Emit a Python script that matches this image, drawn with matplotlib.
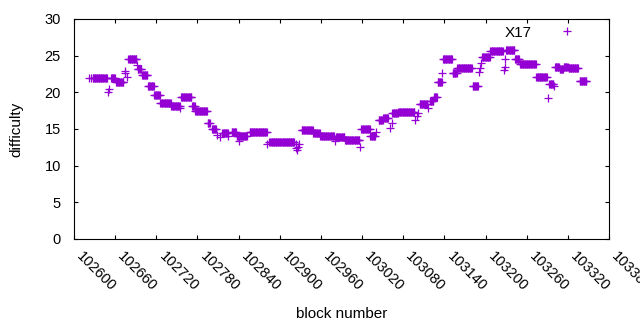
"""Сложность блоков X17 по номеру блока (в стиле gnuplot)"""
import numpy as np
import matplotlib.pyplot as plt

plt.rcParams['font.family'] = ['Liberation Sans', 'DejaVu Sans']

# Участки с постоянной сложностью: первый блок, последний блок, сложность
run_start = [102622, 102625, 102627, 102649, 102651, 102654, 102661, 102674,
             102675, 102677, 102679, 102692, 102693, 102699, 102708, 102717,
             102726, 102742, 102755, 102756, 102772, 102777, 102795, 102801,
             102809, 102813, 102816, 102825, 102830, 102837, 102841, 102856,
             102882, 102885, 102923, 102924, 102925, 102926, 102928, 102932,
             102949, 102959, 102980, 102982, 102995, 103017, 103019, 103032,
             103041, 103044, 103051, 103061, 103063, 103064, 103073, 103097,
             103100, 103102, 103104, 103116, 103119, 103125, 103130, 103137,
             103138, 103152, 103159, 103181, 103190, 103192, 103194, 103195,
             103207, 103227, 103228, 103229, 103230, 103243, 103250, 103274,
             103291, 103293, 103300, 103301, 103308, 103314, 103321, 103337]
run_end = [102622, 102625, 102648, 102649, 102651, 102660, 102672, 102674,
           102675, 102677, 102691, 102692, 102698, 102707, 102716, 102725,
           102741, 102754, 102755, 102771, 102776, 102794, 102798, 102807,
           102809, 102813, 102824, 102825, 102836, 102852, 102841, 102881,
           102882, 102921, 102923, 102924, 102925, 102926, 102928, 102948,
           102958, 102979, 102980, 102994, 103016, 103017, 103031, 103039,
           103041, 103050, 103058, 103061, 103063, 103072, 103096, 103097,
           103100, 103102, 103115, 103116, 103124, 103129, 103136, 103137,
           103151, 103158, 103180, 103189, 103190, 103192, 103194, 103206,
           103225, 103227, 103228, 103229, 103242, 103249, 103273, 103289,
           103291, 103299, 103300, 103307, 103313, 103320, 103335, 103347]
run_diff = [21.9, 22.0, 22.0, 20.1, 20.4, 21.9, 21.4, 22.9,
            22.6, 22.1, 24.5, 23.7, 23.2, 22.3, 20.8, 19.6,
            18.5, 18.1, 17.8, 19.3, 18.2, 17.4, 15.8, 15.0,
            14.2, 13.95, 14.4, 14.0, 14.55, 14.1, 13.4, 14.55,
            13.0, 13.2, 12.9, 12.4, 12.1, 12.6, 13.0, 14.9,
            14.4, 14.1, 13.3, 13.9, 13.45, 12.6, 15.0, 14.05,
            14.6, 16.2, 16.45, 15.1, 15.8, 17.15, 17.3, 16.2,
            16.8, 17.15, 18.4, 17.8, 18.8, 19.3, 21.45, 22.6,
            24.6, 22.65, 23.3, 20.8, 22.8, 23.3, 23.95, 24.85,
            25.65, 23.0, 23.5, 24.55, 25.75, 24.6, 23.9, 22.1,
            19.2, 21.1, 20.8, 23.4, 23.2, 23.5, 23.3, 21.55]

x_ticks = list(range(102600, 103381, 60))
y_ticks = [0, 5, 10, 15, 20, 25, 30]

# Разворачиваем участки в отдельные блоки
blocks = np.concatenate([np.arange(s, e + 1) for s, e in zip(run_start, run_end)])
difficulty = np.concatenate([np.full(e - s + 1, d)
                             for s, e, d in zip(run_start, run_end, run_diff)])

fig = plt.figure(figsize=(6.4, 3.3), dpi=100)
ax = fig.add_axes([74 / 640, 91 / 330, 535 / 640, 220 / 330])

ax.plot(blocks, difficulty, '+', color='#9400d3', markersize=5.6,
        markeredgewidth=0.9, label='X17')

ax.set_xlim(102600, 103380)
ax.set_ylim(0, 30)
ax.set_xticks(x_ticks)
ax.set_yticks(y_ticks)

# Деления внутрь со всех сторон, как в gnuplot
ax.tick_params(axis='both', direction='in', length=2.6, width=0.8,
               top=True, right=True, labelsize=10.5, colors='black')
ax.tick_params(axis='x', pad=7.5)
ax.tick_params(axis='y', pad=9.5)
plt.setp(ax.get_xticklabels(), rotation=-45, ha='left')
for spine in ax.spines.values():
    spine.set_linewidth(0.8)

ax.set_xlabel('block number', fontsize=11)
ax.set_ylabel('difficulty', fontsize=11)
ax.xaxis.set_label_coords(0.5, -0.31)
ax.yaxis.set_label_coords(-0.094, 0.5)

ax.legend(loc='upper right', bbox_to_anchor=(0.952, 0.97), frameon=False,
          markerfirst=False, numpoints=1, handlelength=2.2, handletextpad=1.2,
          borderpad=0, borderaxespad=0, fontsize=11)

fig.savefig('out.png', dpi=100)
